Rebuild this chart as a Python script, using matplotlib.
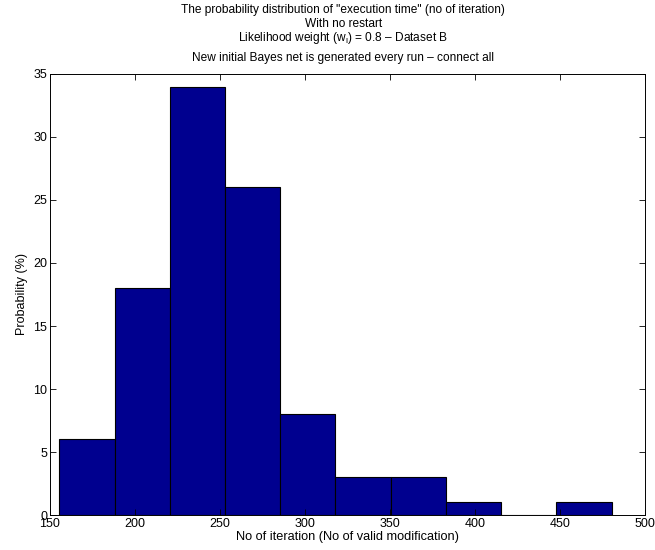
import numpy as np
import matplotlib
matplotlib.use("Agg")
import matplotlib.pyplot as plt

plt.rcParams['font.family'] = ['Liberation Sans', 'DejaVu Sans']
plt.rcParams['mathtext.fontset'] = 'custom'
plt.rcParams['mathtext.rm'] = 'Liberation Sans'

# histogram of iteration counts (10 bins)
bin_lo = 155.5
bin_hi = 480.4
counts = [6, 18, 34, 26, 8, 3, 3, 1, 0, 1]

title_lines = [
    'The probability distribution of "execution time" (no of iteration)',
    'With no restart',
    'Likelihood weight (w$_{\\mathregular{l}}$) = 0.8 \u2013 Dataset B',
    'New initial Bayes net is generated every run \u2013 connect all',
]

edges = np.linspace(bin_lo, bin_hi, len(counts) + 1)
widths = np.diff(edges)

fig = plt.figure(figsize=(6.55, 5.5), dpi=100)
ax = fig.add_axes([0.0763, 0.0636, 0.9084, 0.8019])

ax.bar(edges[:-1], counts, width=widths, align='edge',
       color='#00008f', edgecolor='black', linewidth=0.8)

ax.set_xlim(150, 500)
ax.set_ylim(0, 35)
ax.set_xticks(np.arange(150, 501, 50))
ax.set_yticks(np.arange(0, 36, 5))
ax.tick_params(direction='in', top=True, right=True, labelsize=9,
               length=4, width=0.6, pad=2)
for s in ax.spines.values():
    s.set_linewidth(0.7)

ax.set_xlabel('No of iteration (No of valid modification)', fontsize=9.2, labelpad=1)
ax.set_ylabel('Probability (%)', fontsize=9, labelpad=4)

ys = [0.981, 0.957, 0.931, 0.894]
for txt, y in zip(title_lines, ys):
    fig.text(0.524, y, txt, ha='center', va='center', fontsize=8.6)

fig.savefig('out.png', dpi=100)
